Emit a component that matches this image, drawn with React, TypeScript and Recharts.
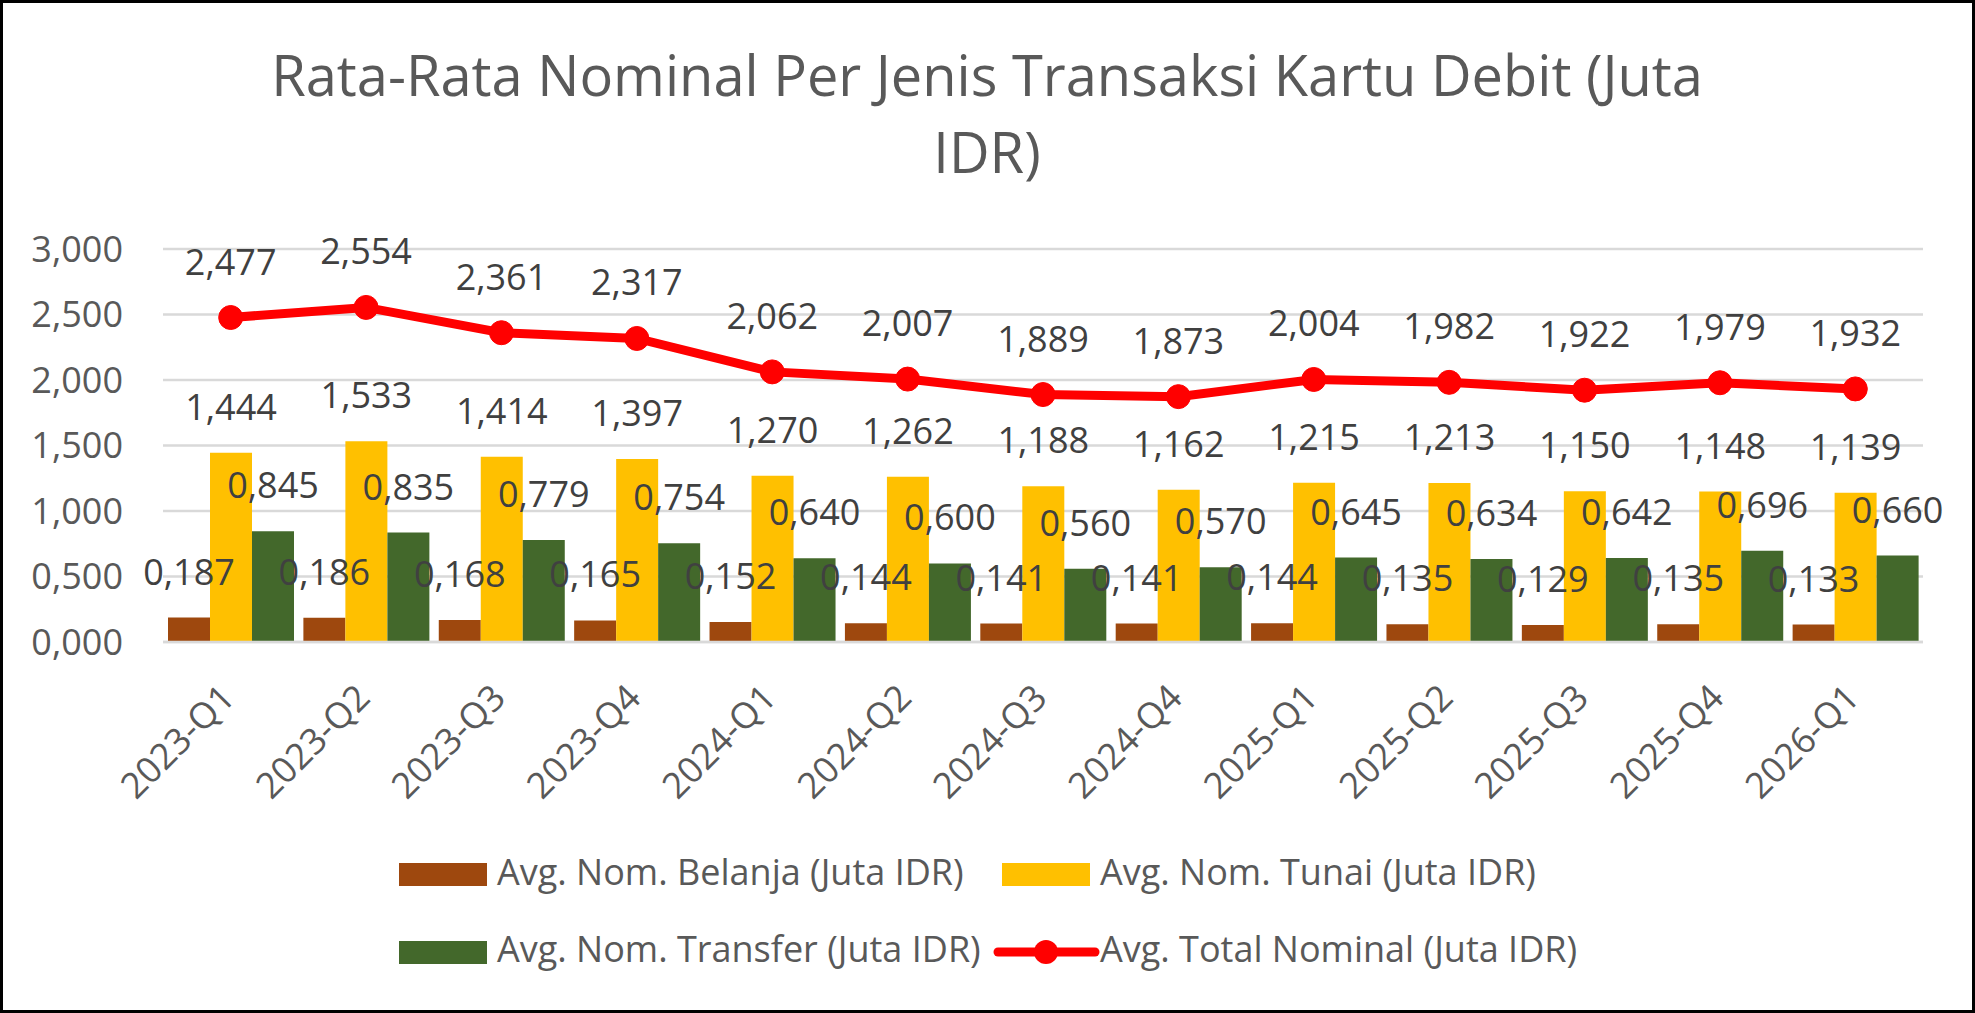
import { ComposedChart, Bar, Line, XAxis, YAxis, CartesianGrid, LabelList } from "recharts";

const quarters = [
  "2023-Q1", "2023-Q2", "2023-Q3", "2023-Q4",
  "2024-Q1", "2024-Q2", "2024-Q3", "2024-Q4",
  "2025-Q1", "2025-Q2", "2025-Q3", "2025-Q4",
  "2026-Q1",
];
const belanja = [0.187, 0.186, 0.168, 0.165, 0.152, 0.144, 0.141, 0.141, 0.144, 0.135, 0.129, 0.135, 0.133];
const tunai = [1.444, 1.533, 1.414, 1.397, 1.27, 1.262, 1.188, 1.162, 1.215, 1.213, 1.15, 1.148, 1.139];
const transfer = [0.845, 0.835, 0.779, 0.754, 0.64, 0.6, 0.56, 0.57, 0.645, 0.634, 0.642, 0.696, 0.66];
const total = [2.477, 2.554, 2.361, 2.317, 2.062, 2.007, 1.889, 1.873, 2.004, 1.982, 1.922, 1.979, 1.932];
const yTicks = [0, 0.5, 1, 1.5, 2, 2.5, 3];

const data = quarters.map((q, i) => ({
  q,
  belanja: belanja[i],
  tunai: tunai[i],
  transfer: transfer[i],
  total: total[i],
}));

const FONT = "'Open Sans', sans-serif";
const fmt = (v: number) => v.toFixed(3).replace(".", ",");

function QuarterTick({ x, y, payload }: any) {
  return (
    <g transform={`translate(${x + 6},${y + 50})`}>
      <text transform="rotate(-45)" textAnchor="end" fill="#595959" fontSize={36} fontFamily={FONT}>
        {payload.value}
      </text>
    </g>
  );
}

const labelStyle = { fill: "#404040", fontSize: 36, fontFamily: FONT };

export default function App() {
  return (
    <div style={{ position: "relative", width: 1975, height: 1013, background: "#fff", fontFamily: FONT }}>
      <style>{`body{margin:0}`}</style>
      <ComposedChart
        width={1975}
        height={1013}
        data={data}
        margin={{ top: 249, right: 52, bottom: 300, left: 0 }}
        barCategoryGap={5}
        barGap={0}
      >
        <CartesianGrid vertical={false} stroke="#D9D9D9" strokeWidth={2.5} />
        <XAxis
          dataKey="q"
          height={71}
          tickLine={false}
          axisLine={{ stroke: "#D9D9D9", strokeWidth: 2.5 }}
          interval={0}
          tick={<QuarterTick />}
        />
        <YAxis
          width={163}
          domain={[0, 3]}
          ticks={yTicks}
          tickFormatter={fmt}
          tickLine={false}
          axisLine={false}
          tickMargin={34}
          tick={{ fill: "#595959", fontSize: 36, fontFamily: FONT }}
        />
        <Bar dataKey="belanja" fill="#9E480E" isAnimationActive={false}>
          <LabelList dataKey="belanja" position="top" offset={33} formatter={fmt} style={labelStyle} />
        </Bar>
        <Bar dataKey="tunai" fill="#FFC000" isAnimationActive={false}>
          <LabelList dataKey="tunai" position="top" offset={33} formatter={fmt} style={labelStyle} />
        </Bar>
        <Bar dataKey="transfer" fill="#43682B" isAnimationActive={false}>
          <LabelList dataKey="transfer" position="top" offset={33} formatter={fmt} style={labelStyle} />
        </Bar>
        <Line
          dataKey="total"
          stroke="#FF0000"
          strokeWidth={9}
          dot={{ r: 12, fill: "#FF0000", stroke: "#FF0000", strokeWidth: 1 }}
          isAnimationActive={false}
        >
          <LabelList dataKey="total" position="top" offset={43} formatter={fmt} style={labelStyle} />
        </Line>
      </ComposedChart>

      <svg width={1975} height={1013} style={{ position: "absolute", left: 0, top: 0, pointerEvents: "none" }}>
        <g fill="#595959" fontFamily={FONT} fontSize={56} textAnchor="middle">
          <text x={987} y={96}>Rata-Rata Nominal Per Jenis Transaksi Kartu Debit (Juta</text>
          <text x={987} y={173}>IDR)</text>
        </g>
        <g fill="#595959" fontFamily={FONT} fontSize={36}>
          <rect x={399} y={863} width={88} height={23} fill="#9E480E" />
          <text x={497} y={885}>Avg. Nom. Belanja (Juta IDR)</text>
          <rect x={1002} y={863} width={88} height={23} fill="#FFC000" />
          <text x={1100} y={885}>Avg. Nom. Tunai (Juta IDR)</text>
          <rect x={399} y={941} width={88} height={23} fill="#43682B" />
          <text x={497} y={962}>Avg. Nom. Transfer (Juta IDR)</text>
          <line x1={998} y1={952} x2={1095} y2={952} stroke="#FF0000" strokeWidth={9} strokeLinecap="round" />
          <circle cx={1046} cy={952} r={12} fill="#FF0000" />
          <text x={1100} y={962}>Avg. Total Nominal (Juta IDR)</text>
        </g>
        <rect x={1.5} y={1.5} width={1972} height={1010} fill="none" stroke="#000" strokeWidth={3} />
      </svg>
    </div>
  );
}
